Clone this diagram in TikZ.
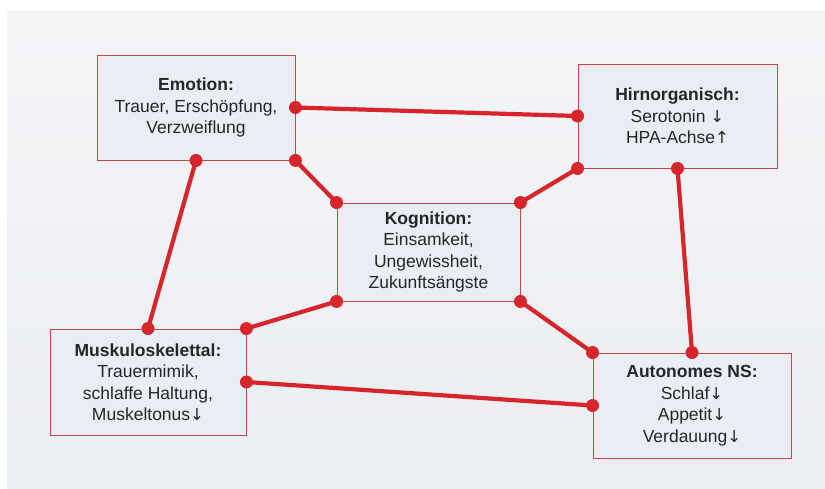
\documentclass[tikz,border=0pt]{standalone}
\usepackage{fontspec}
\setmainfont{Liberation Sans}
\newfontfamily\arrfont{DejaVu Sans}
\newcommand{\dn}{{\arrfont\fontsize{16.5}{21}\selectfont ↓}}
\newcommand{\up}{{\arrfont\fontsize{16.5}{21}\selectfont ↑}}
\definecolor{bgtop}{HTML}{F4F5F7}
\definecolor{bgbot}{HTML}{EAEDF1}
\definecolor{boxfill}{HTML}{E9EEF5}
\definecolor{boxline}{HTML}{C4474A}
\definecolor{linkred}{HTML}{D6262C}
\definecolor{txt}{HTML}{262626}
\tikzset{
  box/.style={draw=boxline, line width=0.9pt, fill=boxfill, align=center,
    text=txt, font=\fontsize{17.5}{21.5}\selectfont, inner sep=0pt},
  link/.style={draw=linkred, line width=4.2pt, line cap=round},
  dot/.style={fill=linkred}
}
\begin{document}
\begin{tikzpicture}[x=1pt,y=-1pt]
\useasboundingbox (0,0) rectangle (825,488);
\fill[white] (0,0) rectangle (825,488);
\shade[top color=bgtop, bottom color=bgbot] (7,11) rectangle (825,488);

\node[box, minimum width=198pt, minimum height=105pt] (emo) at (196,107.5)
  {\textbf{Emotion:}\\Trauer, Erschöpfung,\\Verzweiflung};
\node[box, minimum width=199pt, minimum height=104pt] (hirn) at (677.5,116)
  {\textbf{Hirnorganisch:}\\Serotonin \dn\\HPA-Achse\up};
\node[box, minimum width=183pt, minimum height=98pt] (kog) at (428.5,252)
  {\textbf{Kognition:}\\Einsamkeit,\\Ungewissheit,\\Zukunftsängste};
\node[box, minimum width=196pt, minimum height=106pt] (mus) at (148,382)
  {\textbf{Muskuloskelettal:}\\Trauermimik,\\schlaffe Haltung,\\Muskeltonus\dn};
\node[box, minimum width=198pt, minimum height=105pt] (aut) at (692,405.5)
  {\textbf{Autonomes NS:}\\Schlaf\dn\\Appetit\dn\\Verdauung\dn};

\foreach \a/\b in {emo.east/hirn.west, emo.south east/kog.north west,
  emo.south/mus.north, hirn.south west/kog.north east, hirn.south/aut.north,
  kog.south west/mus.north east, kog.south east/aut.north west, mus.east/aut.west}{
  \draw[link] (\a) -- (\b);
  \fill[dot] (\a) circle (6.5pt);
  \fill[dot] (\b) circle (6.5pt);
}
\end{tikzpicture}
\end{document}
